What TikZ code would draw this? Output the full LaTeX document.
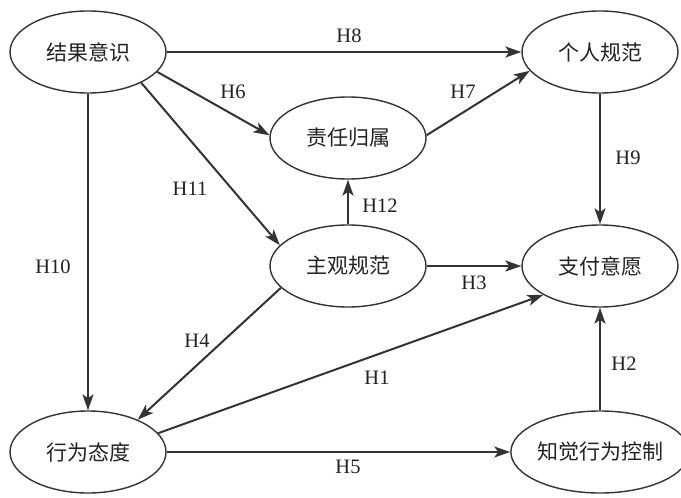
\documentclass[tikz,border=0pt]{standalone}
\usepackage{fontspec}
\setmainfont{Liberation Serif}
\newfontfamily\cjk{Noto Sans CJK SC}
\usetikzlibrary{shapes.geometric,arrows.meta}
\definecolor{ln}{HTML}{333333}
\definecolor{tx}{HTML}{222222}
\tikzset{
  ell/.style={ellipse,draw=ln,line width=1.4pt,minimum width=156pt,minimum height=82pt,inner sep=0pt,font=\cjk\fontsize{21}{21}\selectfont,text=tx},
  arr/.style={draw=ln,line width=2pt,-{Stealth[length=16pt,width=11pt,inset=4pt]}},
  lbl/.style={font=\fontsize{20.5}{20.5}\selectfont,text=tx,inner sep=0pt}
}
\begin{document}
\begin{tikzpicture}[x=1pt,y=-1pt]
\useasboundingbox[fill=white] (0,0) rectangle (681,498);
\node[ell] (a) at (88,52) {结果意识};
\node[ell] (b) at (600,52) {个人规范};
\node[ell] (c) at (348,138) {责任归属};
\node[ell] (d) at (348,266) {主观规范};
\node[ell] (e) at (600,266) {支付意愿};
\node[ell] (g) at (88,452) {行为态度};
\node[ell] (f) at (600,452) {知觉行为控制};

\draw[arr] (a.east) -- (b.west);
\draw[arr] (a.-16) -- (c.178);
\draw[arr] (a.-30) -- (d.163);
\draw[arr] (a.south) -- (g.north);
\draw[arr] (c.2) -- (b.195);
\draw[arr] (b.south) -- (e.north);
\draw[arr] (d.north) -- (c.south);
\draw[arr] (d.east) -- (e.west);
\draw[arr] (d.198) -- (g.33);
\draw[arr] (g.15) -- (e.207);
\draw[arr] (g.east) -- (f.west);
\draw[arr] (f.north) -- (e.south);

\node[lbl] (l8) at (349,36) {H8};
\node[lbl] (l6) at (233,92) {H6};
\node[lbl] (l11) at (190,189) {H11};
\node[lbl] (l10) at (53,267) {H10};
\node[lbl] (l7) at (463,92) {H7};
\node[lbl] (l9) at (628,158) {H9};
\node[lbl] (l12) at (380,206) {H12};
\node[lbl] (l3) at (474,283) {H3};
\node[lbl] (l4) at (197,341) {H4};
\node[lbl] (l1) at (377,378) {H1};
\node[lbl] (l5) at (348,467) {H5};
\node[lbl] (l2) at (624,364) {H2};
\end{tikzpicture}
\end{document}
